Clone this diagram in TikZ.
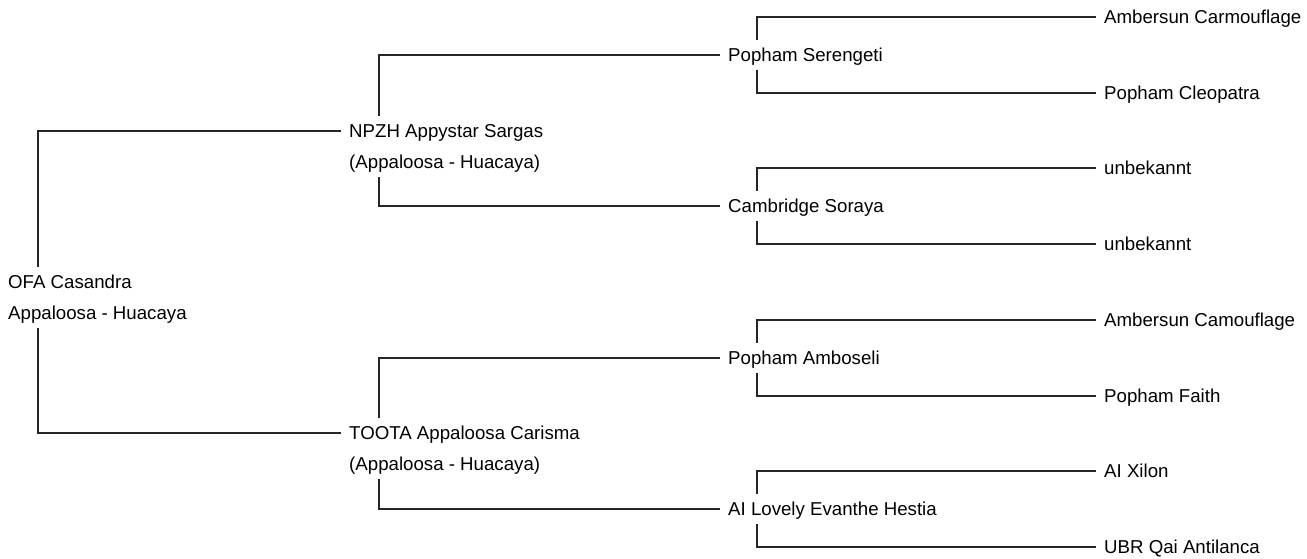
\documentclass[tikz,border=0pt]{standalone}
\usepackage{fontspec}
\setmainfont{Liberation Sans}
\begin{document}
\begin{tikzpicture}[x=1pt,y=-1pt,
  lab/.style={anchor=west, inner xsep=8pt, inner ysep=4.5pt, text height=16.9pt, text depth=3.96pt, font=\fontsize{18.67}{22}\selectfont},
  conn/.style={line width=2pt, draw=black!85}]
\useasboundingbox (0,0) rectangle (1307,558);
% generation 1
\node[lab] (root) at (0,282) {OFA Casandra};
\node[lab] (rootb) at (0,313) {Appaloosa - Huacaya};
% generation 2
\node[lab] (s) at (341,131) {NPZH Appystar Sargas};
\node[lab] (sb) at (341,162) {(Appaloosa - Huacaya)};
\node[lab] (d) at (341,433) {TOOTA Appaloosa Carisma};
\node[lab] (db) at (341,464) {(Appaloosa - Huacaya)};
% generation 3
\node[lab] (ss) at (720,55) {Popham Serengeti};
\node[lab] (sd) at (720,206) {Cambridge Soraya};
\node[lab] (ds) at (720,358) {Popham Amboseli};
\node[lab] (dd) at (720,509) {AI Lovely Evanthe Hestia};
% generation 4
\node[lab] (a1) at (1096,17) {Ambersun Carmouflage};
\node[lab] (a2) at (1096,93) {Popham Cleopatra};
\node[lab] (a3) at (1096,168) {unbekannt};
\node[lab] (a4) at (1096,244) {unbekannt};
\node[lab] (a5) at (1096,320) {Ambersun Camouflage};
\node[lab] (a6) at (1096,396) {Popham Faith};
\node[lab] (a7) at (1096,471) {AI Xilon};
\node[lab] (a8) at (1096,547) {UBR Qai Antilanca};
% connectors
\draw[conn] (s.west) -| ([xshift=38pt]root.north west);
\draw[conn] (d.west) -| ([xshift=38pt]rootb.south west);
\draw[conn] (ss.west) -| ([xshift=38pt]s.north west);
\draw[conn] (sd.west) -| ([xshift=38pt]sb.south west);
\draw[conn] (ds.west) -| ([xshift=38pt]d.north west);
\draw[conn] (dd.west) -| ([xshift=38pt]db.south west);
\draw[conn] (a1.west) -| ([xshift=37pt]ss.north west);
\draw[conn] (a2.west) -| ([xshift=37pt]ss.south west);
\draw[conn] (a3.west) -| ([xshift=37pt]sd.north west);
\draw[conn] (a4.west) -| ([xshift=37pt]sd.south west);
\draw[conn] (a5.west) -| ([xshift=37pt]ds.north west);
\draw[conn] (a6.west) -| ([xshift=37pt]ds.south west);
\draw[conn] (a7.west) -| ([xshift=37pt]dd.north west);
\draw[conn] (a8.west) -| ([xshift=37pt]dd.south west);
\end{tikzpicture}
\end{document}
